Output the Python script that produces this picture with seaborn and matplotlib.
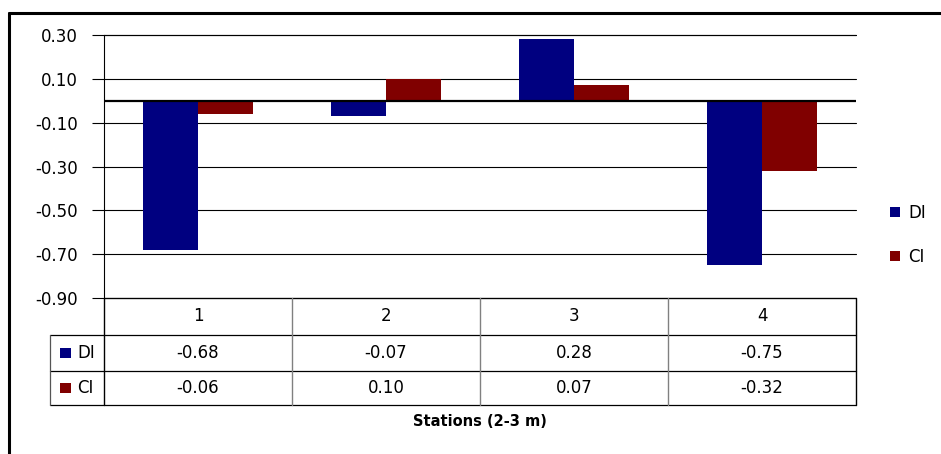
import pandas as pd
import seaborn as sns
import matplotlib.pyplot as plt
from matplotlib.lines import Line2D
from matplotlib.patches import Rectangle
import matplotlib.transforms as mtransforms

stations = ['1', '2', '3', '4']
di_values = [-0.68, -0.07, 0.28, -0.75]
ci_values = [-0.06, 0.10, 0.07, -0.32]
series = ['DI', 'CI']
colors = ['#000080', '#800000']
yticks = [0.30, 0.10, -0.10, -0.30, -0.50, -0.70, -0.90]

df = pd.DataFrame({
    'station': stations * 2,
    'value': di_values + ci_values,
    'series': ['DI'] * 4 + ['CI'] * 4,
})

sns.set_theme(style='white')
plt.rcParams['font.family'] = ['DejaVu Sans']
plt.rcParams['text.color'] = 'black'
plt.rcParams['ytick.color'] = 'black'

W, H = 941, 454
fig = plt.figure(figsize=(W / 100, H / 100), dpi=100)


def fx(x):
    return x / W


def fy(y):
    return 1 - y / H


ax = fig.add_axes([fx(104), fy(298), fx(856) - fx(104), fy(35) - fy(298)])
sns.barplot(data=df, x='station', y='value', hue='series', palette=colors,
            width=0.58, saturation=1, ax=ax, edgecolor='none', linewidth=0)

ax.set_ylim(-0.9, 0.3)
ax.set_yticks(yticks)
ax.set_yticklabels([f'{v:.2f}' for v in yticks], fontsize=12, color='black')
ax.tick_params(axis='y', left=True, length=9, width=0.8, color='black', pad=10)
ax.tick_params(axis='x', bottom=False, labelbottom=False)
ax.set_xlabel('')
ax.set_ylabel('')
ax.set_axisbelow(True)
ax.yaxis.grid(True, color='black', lw=0.8)
for gl in ax.yaxis.get_gridlines():
    gl.set_clip_on(False)
ax.axhline(-0.9, color='black', lw=0.9, clip_on=False)
ax.axhline(0.3, color='black', lw=0.8, clip_on=False)
ax.axhline(0, color='black', lw=1.6, zorder=5)
for s in ['top', 'right', 'bottom']:
    ax.spines[s].set_visible(False)
ax.spines['left'].set_color('black')
ax.spines['left'].set_linewidth(0.8)

# legend
handles, labels = ax.get_legend_handles_labels()
ax.legend(handles, labels, loc='center left', bbox_to_anchor=(fx(890), fy(235)),
          bbox_transform=fig.transFigure, frameon=False, fontsize=12,
          handlelength=0.6, handleheight=0.6, handletextpad=0.5,
          labelspacing=1.55, borderpad=0, borderaxespad=0)

# data table below the axis
tr = mtransforms.blended_transform_factory(ax.transData, fig.transFigure)
for i, st in enumerate(stations):
    fig.text(i, fy(316), st, transform=tr, ha='center', va='center', fontsize=12)
    fig.text(i, fy(353), f'{di_values[i]:.2f}', transform=tr, ha='center', va='center', fontsize=12)
    fig.text(i, fy(388), f'{ci_values[i]:.2f}', transform=tr, ha='center', va='center', fontsize=12)

for yy in [335, 371, 405]:
    fig.add_artist(Line2D([fx(50), fx(856)], [fy(yy), fy(yy)], transform=fig.transFigure,
                          color='black', lw=0.9))
fig.add_artist(Line2D([fx(50), fx(50)], [fy(335), fy(405)], transform=fig.transFigure,
                      color='#555555', lw=0.9))
for xb in [-0.5, 0.5, 1.5, 2.5, 3.5]:
    c = 'black' if xb in (-0.5, 3.5) else '#808080'
    fig.add_artist(Line2D([xb, xb], [fy(298), fy(405)], transform=tr, color=c, lw=1.0))

for name, col, yy in zip(series, colors, [353, 388]):
    fig.add_artist(Rectangle((fx(60), fy(yy) - 5 / H), 11 / W, 10 / H,
                             transform=fig.transFigure, color=col, lw=0))
    fig.text(fx(77), fy(yy), name, ha='left', va='center', fontsize=12)

fig.text(fx(480), fy(422), 'Stations (2-3 m)', ha='center', va='center',
         fontsize=10.5, fontweight='bold')

# outer frame (top and left edges visible)
fig.add_artist(Line2D([fx(8.5), fx(8.5)], [0, fy(12.5)], transform=fig.transFigure,
                      color='black', lw=2.2))
fig.add_artist(Line2D([fx(8.5), 1], [fy(12.5), fy(12.5)], transform=fig.transFigure,
                      color='black', lw=2.2))

plt.savefig('out.png', dpi=100)
